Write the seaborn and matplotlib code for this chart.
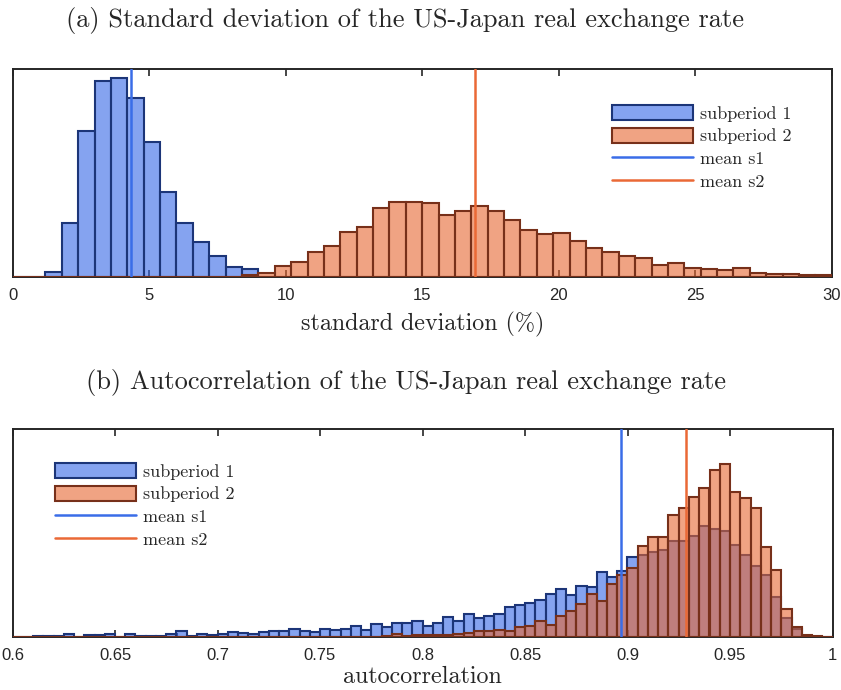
import numpy as np
import pandas as pd
import matplotlib
matplotlib.use("Agg")
import matplotlib.pyplot as plt
from matplotlib.colors import to_rgba
from matplotlib.lines import Line2D
from matplotlib.patches import Patch
import seaborn as sns

# ---------------------------------------------------------------------------
# Data (bar heights, arbitrary units)
# ---------------------------------------------------------------------------
# (a) standard deviation (%), 50 bins of 0.6 between 0 and 30
sd_range = (0.0, 30.0)
sd_nbins = 50
sd_s1 = [0, 0, 5.7, 54, 146.7, 196.7, 199, 179, 135, 85.7,
         54, 35, 21.7, 10.7, 8, 0, 0, 0, 0, 0,
         0, 0, 0, 0, 0, 0, 0, 0, 0, 0,
         0, 0, 0, 0, 0, 0, 0, 0, 0, 0,
         0, 0, 0, 0, 0, 0, 0, 0, 0, 0]
sd_s2 = [0, 0, 0, 0, 0, 0, 0, 0, 0, 0,
         0, 0, 0, 0, 2.3, 4.3, 11.3, 15.7, 25, 31.7,
         45.7, 50.7, 69.3, 75.7, 75.7, 74.3, 62.7, 66.3, 71.3, 66.7,
         57.3, 47, 43.3, 44.3, 36, 29.3, 25.3, 21.7, 19, 12,
         14.3, 9.3, 8.3, 7.7, 9.3, 4.3, 3.7, 3.7, 2, 2.7]
sd_mean_s1 = 4.33
sd_mean_s2 = 16.93

# (b) autocorrelation, 80 bins of 0.005 between 0.6 and 1
ac_range = (0.6, 1.0)
ac_nbins = 80
ac_s1 = [0.5, 0.5, 1, 1, 1, 3, 0.5, 2.5, 2.5, 3.5,
         0.5, 3.5, 1.5, 1.5, 1.5, 3.5, 6, 1.5, 3.5, 2.7,
         3, 5.3, 4.7, 3, 5.7, 6.7, 6.3, 8.7, 6.3, 5.3,
         8.3, 7, 8.3, 11.3, 7, 13, 10, 14, 14, 16,
         11.3, 14.7, 20, 16.3, 23.3, 19, 21.7, 23.3, 30, 32,
         34.7, 37.3, 43.3, 48.3, 42.3, 51.7, 50.7, 65, 60.7, 66.3,
         80.7, 82.3, 85.7, 87.3, 96.7, 96.3, 101.3, 111.7, 108.7, 106.3,
         92.3, 82.3, 71.7, 62.3, 40.7, 19.7, 8, 1.3, 0.7, 0.3]
ac_s2 = [0.2, 0.2, 0.2, 0.2, 0.2, 0.2, 0.2, 0.2, 0.2, 0.2,
         0.2, 0.2, 0.2, 0.2, 0.2, 0.2, 0.2, 0.2, 0.2, 0.2,
         0.5, 0.7, 0.7, 0.7, 0.7, 0.7, 0.7, 0.7, 0.7, 0.7,
         0.7, 0.7, 0.7, 0.7, 0.7, 0.7, 1.5, 3, 1.5, 2.3,
         2.3, 2.7, 2.7, 3.3, 4.7, 6.3, 6.7, 7.3, 6.7, 10.7,
         11.3, 16.7, 12, 21.3, 26.3, 33.3, 43, 36.3, 53, 62.7,
         69, 91.3, 100.7, 100, 122.3, 129, 140, 149, 167.3, 173.3,
         145, 139.7, 129.7, 90.7, 67.3, 28.3, 10, 2.3, 1.3, 0.7]
ac_mean_s1 = 0.8967
ac_mean_s2 = 0.9287

sd_ticks = [0, 5, 10, 15, 20, 25, 30]
sd_ticklabels = ["0", "5", "10", "15", "20", "25", "30"]
ac_ticks = [0.6, 0.65, 0.7, 0.75, 0.8, 0.85, 0.9, 0.95, 1.0]
ac_ticklabels = ["0.6", "0.65", "0.7", "0.75", "0.8", "0.85", "0.9", "0.95", "1"]

labels = ["subperiod 1", "subperiod 2", "mean s1", "mean s2"]

# ---------------------------------------------------------------------------
# Style
# ---------------------------------------------------------------------------
BLUE_FACE = "#3466e6"
BLUE_EDGE = "#1c3578"
ORANGE_FACE = "#e66630"
ORANGE_EDGE = "#77301a"
MEAN_S1 = "#3a6de8"
MEAN_S2 = "#ea6936"
FACE_ALPHA = 0.6
SERIF = "cmr10"

sns.set_style("white")
plt.rcParams["font.family"] = ["Liberation Sans", "DejaVu Sans"]
plt.rcParams["axes.unicode_minus"] = False


def draw_panel(ax, rng, nbins, s1, s2, m1, m2, ticks, ticklabels, ymax):
    # bin centres come from the same grid seaborn uses for the bars
    grid = np.linspace(rng[0], rng[1], nbins + 1)
    df = pd.DataFrame({"centre": (grid[:-1] + grid[1:]) / 2, "s1": s1, "s2": s2})
    sns.histplot(data=df, x="centre", weights="s1", bins=nbins, binrange=rng, ax=ax,
                 color=BLUE_FACE, alpha=FACE_ALPHA, edgecolor=BLUE_EDGE,
                 linewidth=1.5, zorder=3)
    sns.histplot(data=df, x="centre", weights="s2", bins=nbins, binrange=rng, ax=ax,
                 color=ORANGE_FACE, alpha=FACE_ALPHA, edgecolor=ORANGE_EDGE,
                 linewidth=1.5, zorder=3)
    ax.axvline(m1, color=MEAN_S1, linewidth=1.8, zorder=4)
    ax.axvline(m2, color=MEAN_S2, linewidth=1.8, zorder=4)
    ax.set_xlim(rng)
    ax.set_ylim(0, ymax)
    ax.set_xticks(ticks)
    ax.set_xticklabels(ticklabels, fontsize=12)
    ax.set_yticks([])
    ax.set_ylabel("")
    ax.tick_params(axis="x", direction="in", length=5, width=1.2,
                   top=True, bottom=True, pad=8, colors="#262626")
    for sp in ax.spines.values():
        sp.set_visible(True)
        sp.set_color("#262626")
        sp.set_linewidth(1.4)


def legend_handles():
    return [
        Patch(facecolor=to_rgba(BLUE_FACE, FACE_ALPHA), edgecolor=BLUE_EDGE, linewidth=1.5),
        Patch(facecolor=to_rgba(ORANGE_FACE, FACE_ALPHA), edgecolor=ORANGE_EDGE, linewidth=1.5),
        Line2D([], [], color=MEAN_S1, linewidth=1.8),
        Line2D([], [], color=MEAN_S2, linewidth=1.8),
    ]


W, H = 841, 690
fig = plt.figure(figsize=(W / 100, H / 100), dpi=100)


def px_axes(left, top, right, bottom):
    return fig.add_axes([left / W, 1 - bottom / H, (right - left) / W, (bottom - top) / H])


ax1 = px_axes(12.7, 69.3, 831.7, 277.3)
ax2 = px_axes(12.5, 429.3, 832.5, 637.3)

draw_panel(ax1, sd_range, sd_nbins, sd_s1, sd_s2, sd_mean_s1, sd_mean_s2,
           sd_ticks, sd_ticklabels, 208)
draw_panel(ax2, ac_range, ac_nbins, ac_s1, ac_s2, ac_mean_s1, ac_mean_s2,
           ac_ticks, ac_ticklabels, 208)

ax1.set_xlabel("standard deviation (%)", family=SERIF, fontsize=17.3, labelpad=6)
ax2.set_xlabel("autocorrelation", family=SERIF, fontsize=17.3, labelpad=2)

fig.text(405 / W, 1 - 21 / H, "(a) Standard deviation of the US-Japan real exchange rate",
         family=SERIF, fontsize=19, ha="center", va="center")
fig.text(405.5 / W, 1 - 383 / H, "(b) Autocorrelation of the US-Japan real exchange rate",
         family=SERIF, fontsize=19, ha="center", va="center")

leg_kw = dict(frameon=False, prop={"family": SERIF, "size": 13}, handlelength=4.5,
              handleheight=0.9, handletextpad=0.4, labelspacing=0.33,
              borderpad=0, borderaxespad=0, loc="upper left")
ax1.legend(legend_handles(), labels, bbox_to_anchor=(612 / W, 1 - 105 / H),
           bbox_transform=fig.transFigure, **leg_kw)
ax2.legend(legend_handles(), labels, bbox_to_anchor=(55 / W, 1 - 463 / H),
           bbox_transform=fig.transFigure, **leg_kw)

fig.savefig("out.png", dpi=100)
